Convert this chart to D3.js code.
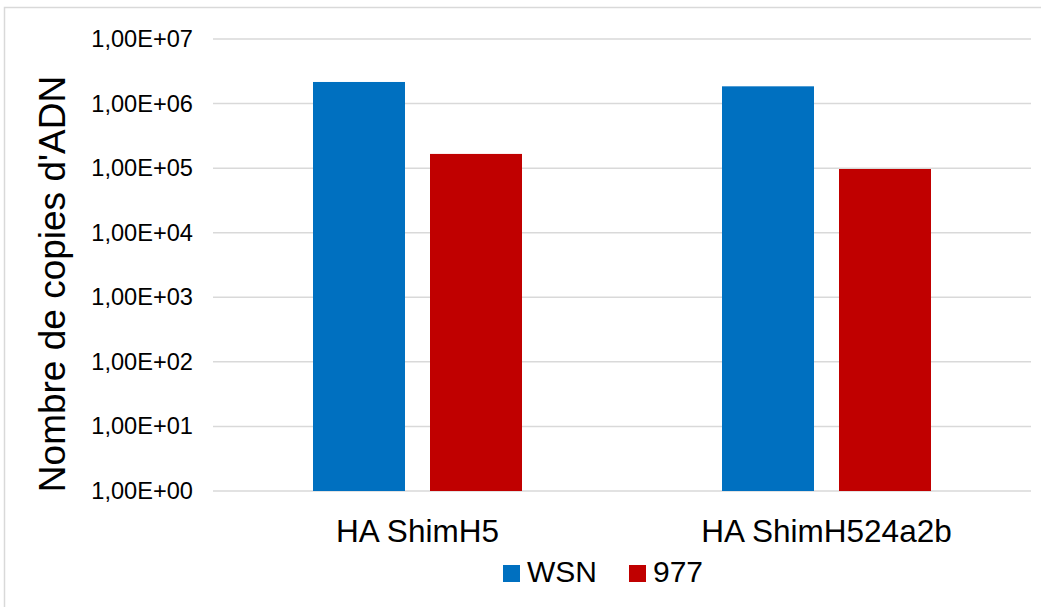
<!DOCTYPE html>
<html>
<head>
<meta charset="utf-8">
<script src="https://cdn.jsdelivr.net/npm/d3@7"></script>
<style>
  html, body { margin: 0; padding: 0; background: #fff; }
  svg { display: block; }
  text { font-family: "Liberation Sans", Arial, sans-serif; fill: #000; }
</style>
</head>
<body>
<svg id="chart" width="1041" height="607"></svg>
<script>
const categories = ["HA ShimH5", "HA ShimH524a2b"];
const seriesNames = ["WSN", "977"];
const seriesColors = ["#0070C0", "#C00000"];
const wsnValues = [2.16e6, 1.85e6];
const s977Values = [1.66e5, 9.7e4];
const tickValues = [1e0, 1e1, 1e2, 1e3, 1e4, 1e5, 1e6, 1e7];
const tickLabels = ["1,00E+00", "1,00E+01", "1,00E+02", "1,00E+03", "1,00E+04", "1,00E+05", "1,00E+06", "1,00E+07"];
const yTitle = "Nombre de copies d'ADN";

const seriesValues = [wsnValues, s977Values];

const svg = d3.select("#chart");
const plot = { left: 213, right: 1031, top: 39, bottom: 491 };

// outer chart border
svg.append("rect")
  .attr("x", 4.5).attr("y", 7.5)
  .attr("width", 1100).attr("height", 700)
  .attr("fill", "#fff").attr("stroke", "#d9d9d9").attr("stroke-width", 1.5);

const y = d3.scaleLog().domain([1, 1e7]).range([plot.bottom, plot.top]);
const x0 = d3.scaleBand().domain(categories).range([plot.left, plot.right]).padding(0);
const x1 = d3.scaleBand().domain(seriesNames).range([0, x0.bandwidth()])
  .paddingInner(0.2137).paddingOuter(0.8547);

// gridlines
svg.append("g").selectAll("line").data(tickValues).join("line")
  .attr("x1", plot.left).attr("x2", plot.right)
  .attr("y1", d => y(d)).attr("y2", d => y(d))
  .attr("stroke", "#d9d9d9").attr("stroke-width", 1.5);

// y tick labels
const yAxis = d3.axisLeft(y).tickValues(tickValues)
  .tickFormat((d, i) => tickLabels[i]).tickSize(0).tickPadding(0);
const gy = svg.append("g").attr("transform", `translate(193,0)`).call(yAxis);
gy.select(".domain").remove();
gy.selectAll("text").attr("font-size", 23.6).attr("font-family", "Liberation Sans, Arial, sans-serif").attr("fill", "#000");

// bars
const groups = svg.append("g").selectAll("g").data(categories).join("g")
  .attr("transform", d => `translate(${x0(d)},0)`);
groups.selectAll("rect")
  .data((c, ci) => seriesNames.map((s, si) => ({ s, si, v: seriesValues[si][ci] })))
  .join("rect")
  .attr("x", d => x1(d.s))
  .attr("width", x1.bandwidth())
  .attr("y", d => y(d.v))
  .attr("height", d => y(1) - y(d.v))
  .attr("fill", d => seriesColors[d.si]);

// x category labels
const xAxis = d3.axisBottom(x0).tickSize(0).tickPadding(0);
const gx = svg.append("g").attr("transform", `translate(0,${plot.bottom})`).call(xAxis);
gx.select(".domain").remove();
gx.selectAll("text").attr("font-size", 31.5).attr("dy", null).attr("y", 51)
  .attr("font-family", "Liberation Sans, Arial, sans-serif").attr("fill", "#000");

// y title
svg.append("text")
  .attr("transform", "translate(65,284) rotate(-90)")
  .attr("text-anchor", "middle")
  .attr("font-size", 37)
  .text(yTitle);

// legend
const legendItems = [
  { name: seriesNames[0], color: seriesColors[0], x: 503 },
  { name: seriesNames[1], color: seriesColors[1], x: 629 }
];
const lg = svg.append("g").selectAll("g").data(legendItems).join("g")
  .attr("transform", d => `translate(${d.x},565)`);
lg.append("rect").attr("width", 17).attr("height", 17).attr("fill", d => d.color);
lg.append("text").attr("x", 24).attr("y", 17).attr("font-size", 30).text(d => d.name);
</script>
</body>
</html>
